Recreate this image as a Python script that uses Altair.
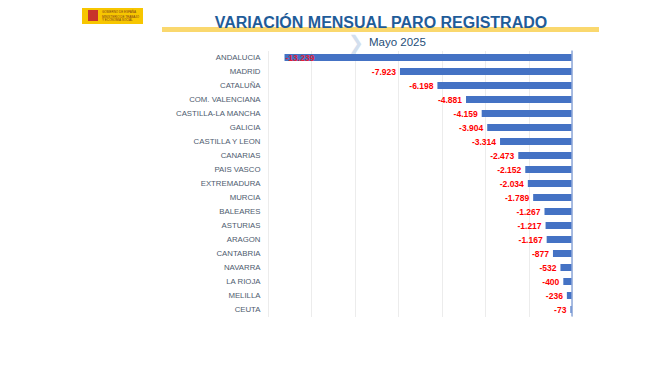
import altair as alt
import pandas as pd

regions = ["ANDALUCIA", "MADRID", "CATALUÑA", "COM. VALENCIANA", "CASTILLA-LA MANCHA",
           "GALICIA", "CASTILLA Y LEON", "CANARIAS", "PAIS VASCO", "EXTREMADURA",
           "MURCIA", "BALEARES", "ASTURIAS", "ARAGON", "CANTABRIA", "NAVARRA",
           "LA RIOJA", "MELILLA", "CEUTA"]
values = [-13239, -7923, -6198, -4881, -4159, -3904, -3314, -2473, -2152, -2034,
          -1789, -1267, -1217, -1167, -877, -532, -400, -236, -73]
grid_values = [-14000, -12000, -10000, -8000, -6000, -4000, -2000, 0]

def fmt(v):
    s = f"{abs(v):,}".replace(",", ".")
    return ("-" if v < 0 else "") + s

df = pd.DataFrame({"region": regions, "value": values,
                   "label": [fmt(v) for v in values]})
df["inside"] = df["value"] < -12000

W, H = 304, 266
LEFT, TOP = 268, 50.5
TOTAL_W, TOTAL_H = 643, 354

y_enc = alt.Y("region:N", sort=regions, title=None,
              scale=alt.Scale(paddingInner=0.5, paddingOuter=0.25),
              axis=alt.Axis(ticks=False, domain=False, labelPadding=8, labelFontSize=7.8,
                            labelColor="#4E5B6E", labelFont="Liberation Sans", grid=False))
x_enc = alt.X("value:Q", title=None, scale=alt.Scale(domain=[-14000, 0], nice=False),
              axis=alt.Axis(values=grid_values, labels=False, ticks=False, domain=False,
                            grid=True, gridColor="#ECECEC", gridWidth=1))

base = alt.Chart(df)
bars = base.mark_bar(color="#4472C4").encode(x=x_enc, y=y_enc)
labels_out = base.transform_filter("!datum.inside").mark_text(
    align="right", dx=-4, fontSize=8.5, fontWeight="bold", color="#FF0000",
    font="Liberation Sans").encode(x="value:Q", y=alt.Y("region:N", sort=regions), text="label:N")
labels_in = base.transform_filter("datum.inside").mark_text(
    align="left", dx=1, fontSize=8.5, fontWeight="bold", color="#E0213A",
    font="Liberation Sans").encode(x="value:Q", y=alt.Y("region:N", sort=regions), text="label:N")

zero = alt.Chart(pd.DataFrame({"z": [0]})).mark_rule(color="#8EA9DB", strokeWidth=1.5).encode(
    x="z:Q", y=alt.value(0), y2=alt.value(H))

dummy = pd.DataFrame({"a": [0]})
def px(x):
    return x - LEFT
def py(y):
    return y - TOP

band = alt.Chart(dummy).mark_rule(color="#FAD86E", strokeWidth=5).encode(
    x=alt.value(px(162)), x2=alt.value(px(599)), y=alt.value(py(29.5)))
title = alt.Chart(dummy).mark_text(
    text="VARIACIÓN MENSUAL PARO REGISTRADO", fontSize=16, fontWeight="bold",
    color="#1F5C99", font="Liberation Sans", align="center", baseline="alphabetic").encode(
    x=alt.value(px(381)), y=alt.value(py(28)))
chevron = alt.Chart(dummy).mark_text(
    text="❯", fontSize=19, color="#D3DFEE", align="center", baseline="middle",
    font="DejaVu Sans").encode(x=alt.value(px(356)), y=alt.value(py(43)))
subtitle = alt.Chart(dummy).mark_text(
    text="Mayo 2025", fontSize=11.5, color="#1F4E79", font="Liberation Sans",
    align="left", baseline="middle").encode(x=alt.value(px(369)), y=alt.value(py(43)))

logo = alt.Chart(dummy).mark_rect(color="#F7C600").encode(
    x=alt.value(px(82)), x2=alt.value(px(143)), y=alt.value(py(8)), y2=alt.value(py(24)))
emblem = alt.Chart(dummy).mark_rect(color="#C8352B").encode(
    x=alt.value(px(88)), x2=alt.value(px(98)), y=alt.value(py(10)), y2=alt.value(py(21)))
logo_t1 = alt.Chart(dummy).mark_text(
    text="GOBIERNO DE ESPAÑA", fontSize=3, color="#7A3A1A", align="left", baseline="middle",
    font="Liberation Sans").encode(x=alt.value(px(102)), y=alt.value(py(12)))
logo_t2 = alt.Chart(dummy).mark_text(
    text="MINISTERIO DE TRABAJO", fontSize=3, color="#7A3A1A", align="left", baseline="middle",
    font="Liberation Sans").encode(x=alt.value(px(102)), y=alt.value(py(17)))
logo_t3 = alt.Chart(dummy).mark_text(
    text="Y ECONOMÍA SOCIAL", fontSize=3, color="#7A3A1A", align="left", baseline="middle",
    font="Liberation Sans").encode(x=alt.value(px(102)), y=alt.value(py(20)))

chart = alt.layer(bars, zero, labels_out, labels_in, band, title, chevron, subtitle,
                  logo, emblem, logo_t1, logo_t2, logo_t3).properties(
    width=W, height=H,
    autosize=alt.AutoSizeParams(type="none"),
    padding={"left": LEFT - 8, "top": TOP - 8, "right": TOTAL_W - (LEFT - 8) - W,
             "bottom": TOTAL_H - (TOP - 8) - H},
    background="white",
).configure_view(stroke=None)

chart.save("out.html", embed_options={"renderer": "svg", "actions": False})
